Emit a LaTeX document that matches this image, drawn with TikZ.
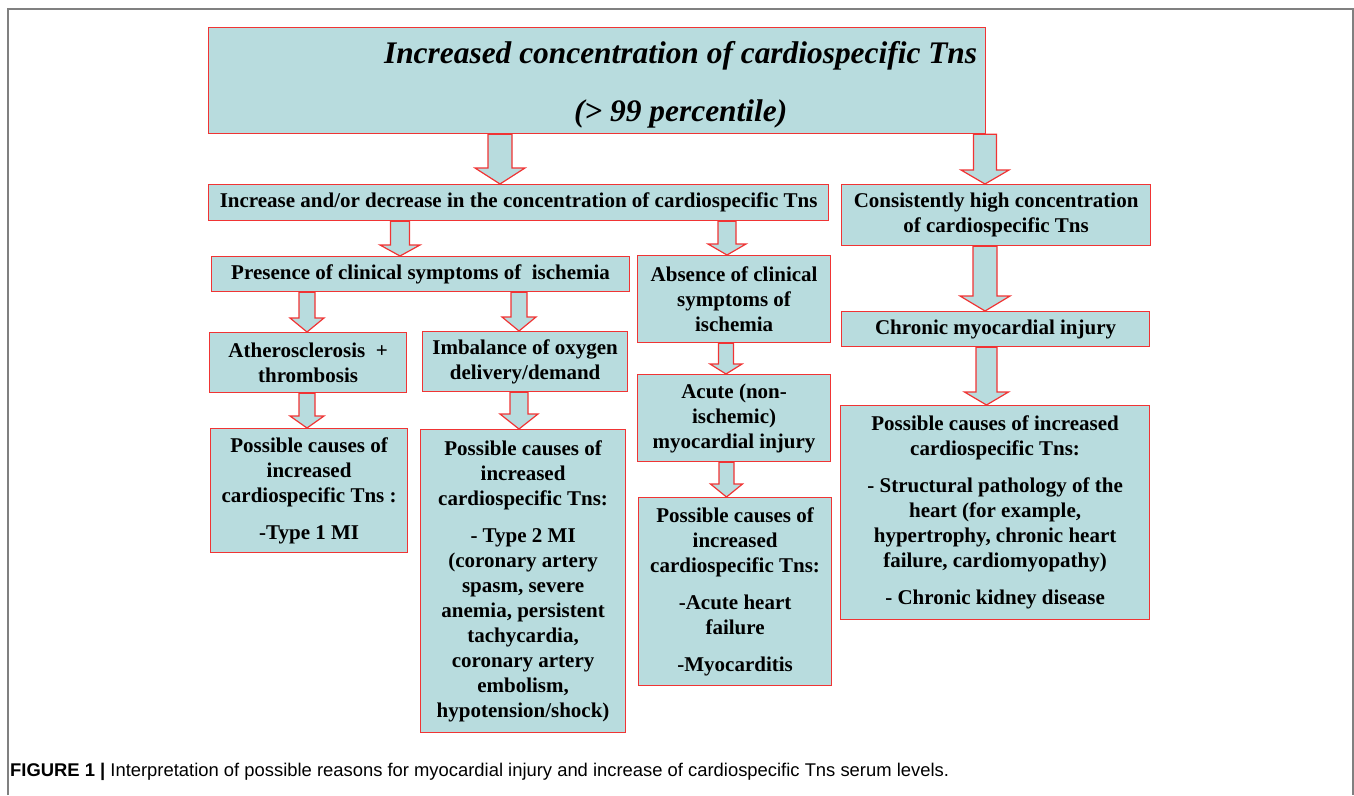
\documentclass[tikz,border=0pt]{standalone}
\usepackage{fontspec}
\setmainfont{Liberation Serif}
\newfontfamily\capfont{Liberation Sans}
\usetikzlibrary{calc}
\definecolor{tnfill}{RGB}{184,220,222}
\definecolor{tnred}{RGB}{240,52,52}
\definecolor{framegray}{RGB}{128,128,128}
% block arrow: x, from, to, half shaft, head length
\newcommand{\bigarr}[5]{%
  \draw[blockarr] let \p1=(#2.south), \p2=(#3.north), \p3=(#1,0) in
    ({\x3-#4pt},\y1) -- ({\x3+#4pt},\y1) -- ({\x3+#4pt},{\y2+#5pt})
    -- ({\x3+2*#4pt+1pt},{\y2+#5pt}) -- (\x3,\y2)
    -- ({\x3-2*#4pt-1pt},{\y2+#5pt}) -- ({\x3-#4pt},{\y2+#5pt}) -- cycle;}

\begin{document}
\begin{tikzpicture}[x=1pt,y=-1pt,
  box/.style={draw=tnred,fill=tnfill,line width=1.2pt,anchor=north west,
    align=center,inner sep=2pt,font=\fontsize{21}{25}\selectfont\bfseries},
  blockarr/.style={draw=tnred,fill=tnfill,line width=1.2pt}]

  \useasboundingbox (0,0) rectangle (1354,795);
  \draw[framegray,line width=1.5pt] (8,795) -- (8,9) -- (1353,9) -- (1353,795);

  \node (00) [box,minimum width=777pt,minimum height=106pt,
    font=\fontsize{31.4}{58}\selectfont\bfseries\itshape] at (208,27)
    {\hspace*{167pt}\rule{0pt}{31pt}Increased concentration of cardiospecific Tns\\
     \hspace*{167pt}(> 99 percentile)};

  \node (10) [box,minimum width=620pt,minimum height=36pt] at (208,184)
    {Increase and/or decrease in the concentration of cardiospecific Tns};
  \node (11) [box,minimum width=309pt,minimum height=61pt] at (841,184)
    {Consistently high concentration\\of cardiospecific Tns};

  \node (20) [box,minimum width=418pt,minimum height=35pt] at (211,256)
    {Presence of clinical symptoms of~~ischemia};
  \node (21) [box,minimum width=193pt,minimum height=87pt] at (637,255)
    {Absence of clinical\\symptoms of\\ischemia};
  \node (22) [box,minimum width=308pt,minimum height=35pt] at (841,311)
    {Chronic myocardial injury};

  \node (30) [box,minimum width=197pt,minimum height=60pt] at (209,332)
    {Atherosclerosis~~+\\thrombosis};
  \node (31) [box,minimum width=205pt,minimum height=60pt] at (422,331)
    {Imbalance of oxygen\\delivery/demand};
  \node (32) [box,minimum width=193pt,minimum height=87pt] at (637,374)
    {Acute (non-\\ischemic)\\myocardial injury};

  \node (40) [box,minimum width=197pt,minimum height=124pt] at (210,428)
    {Possible causes of\\increased\\cardiospecific Tns :\\[12pt]-Type 1 MI};
  \node (41) [box,minimum width=205pt,minimum height=303pt] at (420,429)
    {Possible causes of\\increased\\cardiospecific Tns:\\[12pt]- Type 2 MI\\
     (coronary artery\\spasm, severe\\anemia, persistent\\tachycardia,\\
     coronary artery\\embolism,\\hypotension/shock)};
  \node (42) [box,minimum width=193pt,minimum height=188pt] at (638,497)
    {Possible causes of\\increased\\cardiospecific Tns:\\[12pt]-Acute heart\\
     failure\\[12pt]-Myocarditis};
  \node (43) [box,minimum width=309pt,minimum height=214pt] at (840,405)
    {Possible causes of increased\\cardiospecific Tns:\\[12pt]
     - Structural pathology of the\\heart (for example,\\
     hypertrophy, chronic heart\\failure, cardiomyopathy)\\[12pt]
     - Chronic kidney disease};

  \node (cap) [anchor=west,inner sep=0pt,font=\capfont\fontsize{18.4}{22}\selectfont]
    at (10,772) {\textbf{FIGURE 1 |} Interpretation of possible reasons for
    myocardial injury and increase of cardiospecific Tns serum levels.};

  %% -- arrows
  \bigarr{500}{00}{10}{12}{16}
  \bigarr{985}{00}{11}{11.5}{14}
  %% acute branch
  \bigarr{400}{10}{20}{9.5}{11}
  \bigarr{727}{10}{21}{9}{11}
  \bigarr{307}{20}{30}{8}{14}
  \bigarr{519}{20}{31}{8}{14}
  \bigarr{307}{30}{40}{8}{12}
  \bigarr{519}{31}{41}{9}{15}
  \bigarr{726}{21}{32}{7.5}{10}
  \bigarr{726.5}{32}{42}{7.5}{13}
  %% chronic branch
  \bigarr{985}{11}{22}{12}{15}
  \bigarr{986.5}{22}{43}{10.5}{13}

\end{tikzpicture}
\end{document}
